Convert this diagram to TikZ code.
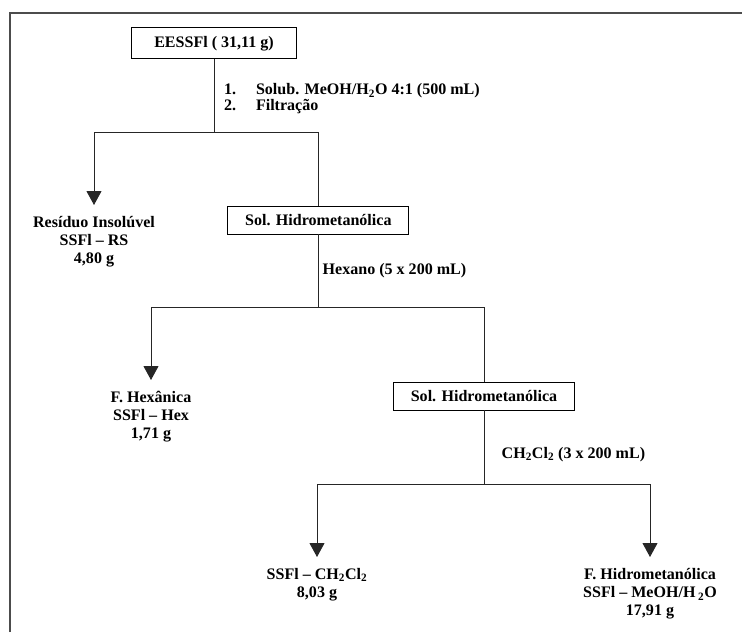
\documentclass[tikz,border=0pt]{standalone}
\usepackage{fontspec}
\setmainfont{Liberation Serif}
\usepackage{tikz}
\usetikzlibrary{arrows.meta, positioning}

\begin{document}
\begin{tikzpicture}[every node/.style={font=\fontsize{13.7}{15.5}\selectfont\bfseries, text=black},
    caixa/.style={draw=black, line width=0.8pt, minimum width=5.43cm, minimum height=0.84cm},
    fracao/.style={align=center, anchor=north, inner ysep=0.33cm},
    seta/.style={-{Triangle[width=0.45cm, length=0.42cm]}},
    linha/.style={line width=0.75pt, draw=black!85}]
\useasboundingbox (0,0) rectangle (22.26,-18.96);
\draw[line width=1.4pt, black!70] (0.30,-18.96) -- (0.30,-0.39) -- (22.26,-0.39);

\node[caixa, minimum width=4.95cm, minimum height=0.93cm] (ees) at (6.42,-1.30) {EESSFl ( 31,11 g)};
\coordinate (j1) at (6.42,-3.96);
\node[fracao] (res) at (2.82,-6.15) {Resíduo Insolúvel\\SSFl -- RS\\4,80 g};
\node[caixa] (sol1) at (9.55,-6.60) {Sol. Hidrometanólica};
\draw[linha] (ees) -- (j1) node[midway, right=0.17cm, yshift=-0.1cm, align=left] {\makebox[0.96cm][l]{1.}Solub. MeOH/H\textsubscript{2}O 4:1 (500 mL)\\[-2pt]\makebox[0.96cm][l]{2.}Filtração};
\draw[linha, seta] (j1) -| (res);
\draw[linha] (j1) -| (sol1);

\coordinate (j2) at (9.55,-9.21);
\node[fracao] (hex) at (4.53,-11.40) {F. Hexânica\\SSFl -- Hex\\1,71 g};
\node[caixa] (sol2) at (14.52,-11.88) {Sol. Hidrometanólica};
\draw[linha] (sol1) -- (j2) node[midway, right] {Hexano (5 x 200 mL)};
\draw[linha, seta] (j2) -| (hex);
\draw[linha] (j2) -| (sol2);

\coordinate (j3) at (14.52,-14.52);
\node[fracao] (dcm) at (9.51,-16.71) {SSFl -- CH\textsubscript{2}Cl\textsubscript{2}\\8,03 g};
\node[fracao] (hid) at (19.50,-16.71) {F. Hidrometanólica\\SSFl -- MeOH/H\,\textsubscript{2}O\\17,91 g};
\draw[linha] (sol2) -- (j3) node[pos=0.6, right=0.4cm] {CH\textsubscript{2}Cl\textsubscript{2} (3 x 200 mL)};
\draw[linha, seta] (j3) -| (dcm);
\draw[linha, seta] (j3) -| (hid);
\end{tikzpicture}
\end{document}
